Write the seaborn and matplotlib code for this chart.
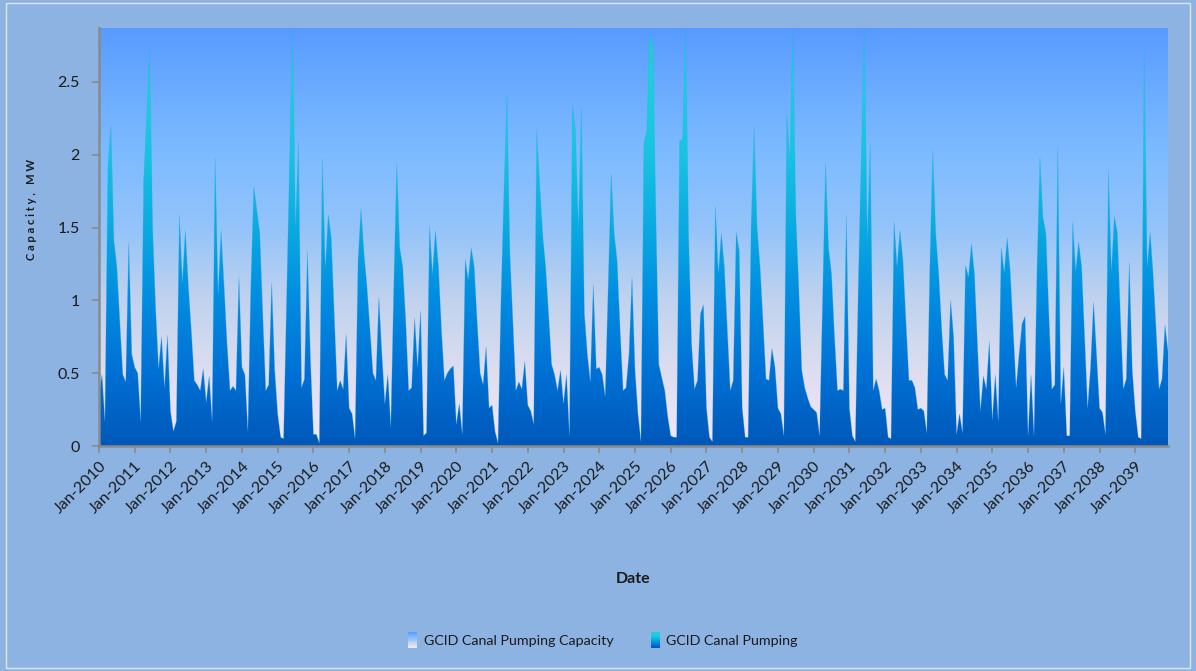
import numpy as np
import pandas as pd
import matplotlib
matplotlib.use("Agg")
import matplotlib.pyplot as plt
import seaborn as sns
from matplotlib.colors import LinearSegmentedColormap
from matplotlib.patches import PathPatch, Rectangle
from matplotlib.legend_handler import HandlerBase

# ---- data -------------------------------------------------------------
years = list(range(2010, 2040))
tick_labels = [f"Jan-{y}" for y in years]
series_names = ["GCID Canal Pumping Capacity", "GCID Canal Pumping"]

capacity_mw = 2.87

pumping_2010s = [
    0.35, 0.49, 0.17, 1.92, 2.20, 1.41, 1.23, 0.85, 0.49, 0.44, 1.40, 0.63,
    0.54, 0.50, 0.17, 1.82, 2.25, 2.71, 1.50, 0.95, 0.53, 0.75, 0.40, 0.76,
    0.24, 0.10, 0.17, 1.58, 1.12, 1.48, 1.10, 0.79, 0.45, 0.42, 0.38, 0.53,
    0.30, 0.48, 0.17, 1.98, 1.04, 1.48, 1.10, 0.70, 0.38, 0.41, 0.38, 1.16,
    0.54, 0.49, 0.10, 1.10, 1.78, 1.62, 1.46, 0.90, 0.38, 0.42, 1.12, 0.52,
    0.22, 0.06, 0.05, 1.00, 1.95, 2.85, 1.50, 2.09, 0.40, 0.46, 1.34, 0.60,
    0.08, 0.08, 0.02, 1.97, 1.22, 1.59, 1.43, 0.90, 0.38, 0.45, 0.39, 0.77,
    0.26, 0.22, 0.05, 1.27, 1.63, 1.32, 1.09, 0.80, 0.50, 0.45, 1.02, 0.63,
    0.29, 0.49, 0.13, 1.09, 1.94, 1.36, 1.23, 0.86, 0.38, 0.40, 0.88, 0.54,
    0.93, 0.07, 0.09, 1.51, 1.18, 1.48, 1.23, 0.80, 0.45, 0.50, 0.53, 0.55,
]
pumping_2020s = [
    0.15, 0.29, 0.08, 1.28, 1.14, 1.36, 1.23, 0.85, 0.50, 0.42, 0.68, 0.26,
    0.28, 0.10, 0.02, 1.00, 1.75, 2.41, 1.32, 0.85, 0.38, 0.44, 0.39, 0.58,
    0.28, 0.24, 0.15, 2.17, 1.80, 1.45, 1.23, 0.90, 0.56, 0.49, 0.38, 0.52,
    0.29, 0.49, 0.07, 2.34, 2.17, 1.50, 2.32, 0.91, 0.63, 0.44, 1.11, 0.53,
    0.54, 0.49, 0.34, 1.09, 1.87, 1.46, 1.27, 0.80, 0.38, 0.40, 0.63, 1.16,
    0.52, 0.22, 0.03, 2.08, 2.17, 2.83, 2.74, 1.60, 0.56, 0.47, 0.38, 0.20,
    0.07, 0.06, 0.06, 2.10, 2.10, 2.86, 1.45, 0.70, 0.39, 0.45, 0.91, 0.97,
    0.26, 0.06, 0.03, 1.65, 1.18, 1.46, 1.23, 0.80, 0.38, 0.45, 1.47, 1.34,
    0.26, 0.06, 0.06, 1.50, 2.19, 1.50, 1.23, 0.85, 0.46, 0.45, 0.67, 0.54,
    0.26, 0.22, 0.07, 2.28, 1.96, 2.86, 1.59, 1.09, 0.52, 0.40, 0.33, 0.27,
]
pumping_2030s = [
    0.25, 0.23, 0.07, 1.00, 1.94, 1.36, 1.18, 0.75, 0.38, 0.39, 0.38, 1.58,
    0.26, 0.07, 0.03, 1.10, 2.00, 2.87, 1.43, 2.08, 0.38, 0.46, 0.38, 0.25,
    0.26, 0.06, 0.05, 1.54, 1.23, 1.48, 1.27, 0.85, 0.45, 0.45, 0.40, 0.25,
    0.26, 0.24, 0.09, 1.20, 2.03, 1.46, 1.18, 0.80, 0.49, 0.45, 1.00, 0.75,
    0.08, 0.22, 0.09, 1.24, 1.16, 1.39, 1.18, 0.70, 0.24, 0.48, 0.39, 0.72,
    0.18, 0.49, 0.17, 1.36, 1.19, 1.43, 1.20, 0.80, 0.40, 0.63, 0.84, 0.89,
    0.07, 0.49, 0.07, 1.20, 1.98, 1.57, 1.46, 0.90, 0.39, 0.42, 2.05, 0.29,
    0.54, 0.07, 0.07, 1.54, 1.20, 1.40, 1.23, 0.75, 0.26, 0.54, 0.99, 0.63,
    0.26, 0.23, 0.08, 1.89, 1.20, 1.58, 1.46, 0.90, 0.39, 0.46, 1.26, 0.52,
    0.24, 0.06, 0.05, 2.71, 1.23, 1.47, 1.18, 0.80, 0.39, 0.46, 0.83, 0.65,
]

pumping = np.array(pumping_2010s + pumping_2020s + pumping_2030s)
months = np.arange(len(pumping))
df = pd.DataFrame({"month": months, "pumping": pumping,
                   "capacity": np.full(len(pumping), capacity_mw)})

# ---- style ------------------------------------------------------------
sns.set_theme(style="white")
plt.rcParams["font.family"] = ["Lato", "DejaVu Sans"]

BG = "#8db3e2"
AXIS_GREY = "#8a8a8a"
TEXT = "#1a1a1a"

# colour stops (value fraction, colour)
capacity_stops = [(0.00, "#f3e8f8"), (0.17, "#dedef0"), (0.35, "#c0d2ee"),
                  (0.52, "#94c4fa"), (0.70, "#7dbbff"), (0.87, "#69aaff"),
                  (1.00, "#589bff")]
pumping_stops = [(0.00, "#0058b9"), (0.17, "#0070d4"), (0.35, "#008ce1"),
                 (0.52, "#0aaae1"), (0.70, "#19c3e1"), (0.87, "#1ad2d8"),
                 (1.00, "#14d7c4")]

fig = plt.figure(figsize=(11.96, 6.71), dpi=100, facecolor=BG)
ax = fig.add_axes([99 / 1196, 1 - 446 / 671, (1168 - 99) / 1196, (446 - 28) / 671])
ax.set_facecolor("none")


def gradient_area(ax, x, y, stops, ymax, z):
    """Fill the region under y with a vertical colour gradient."""
    poly = ax.fill_between(x, 0, y, facecolor="none", edgecolor="none", zorder=z)
    cmap = LinearSegmentedColormap.from_list("grad", stops)
    grad = np.linspace(0, 1, 512).reshape(-1, 1)
    img = ax.imshow(grad, cmap=cmap, extent=[x[0], x[-1], 0, ymax],
                    origin="lower", aspect="auto", zorder=z,
                    interpolation="bilinear")
    clip = PathPatch(poly.get_paths()[0], transform=ax.transData,
                     facecolor="none", edgecolor="none")
    ax.add_patch(clip)
    img.set_clip_path(clip)


gradient_area(ax, df["month"].values, df["capacity"].values,
              capacity_stops, capacity_mw, 1)
gradient_area(ax, df["month"].values, df["pumping"].values,
              pumping_stops, capacity_mw, 2)

sns.lineplot(data=df, x="month", y="pumping", ax=ax, color="#2aa6e6",
             linewidth=0.5, alpha=0.35, zorder=3)

ax.set_xlim(0, len(pumping) - 1)
ax.set_ylim(0, capacity_mw)

ax.set_xticks(months[::12])
ax.set_xticklabels(tick_labels, rotation=45, ha="right",
                   rotation_mode="anchor")
yt = [0, 0.5, 1, 1.5, 2, 2.5]
ax.set_yticks(yt)
ax.set_yticklabels(["0", "0.5", "1", "1.5", "2", "2.5"])

ax.tick_params(axis="both", which="both", bottom=True, left=True,
               direction="out", length=5, width=1.2, color=AXIS_GREY,
               labelsize=11.5, labelcolor=TEXT)
ax.tick_params(axis="y", pad=9)
ax.tick_params(axis="x", pad=4)

for side in ("top", "right"):
    ax.spines[side].set_visible(False)
for side in ("left", "bottom"):
    ax.spines[side].set_color(AXIS_GREY)
    ax.spines[side].set_linewidth(1.8)
    ax.spines[side].set_zorder(5)

ax.set_xlabel("Date", fontsize=11.5, fontweight="bold", color=TEXT)
ax.xaxis.set_label_coords(0.5, (446 - 572) / 418)
ax.set_ylabel("C a p a c i t y ,   M W", fontsize=8, fontweight="bold",
              color=TEXT)
ax.yaxis.set_label_coords((37 - 99) / 1069, (446 - 209) / 418)


# ---- legend with gradient swatches --------------------------------------
class GradientSwatch(HandlerBase):
    def __init__(self, stops, n=24):
        super().__init__()
        self.cmap = LinearSegmentedColormap.from_list("sw", stops)
        self.n = n

    def create_artists(self, legend, orig_handle, xdescent, ydescent,
                       width, height, fontsize, trans):
        arts = []
        h = height / self.n
        for k in range(self.n):
            arts.append(Rectangle((-xdescent, -ydescent + k * h), width,
                                  h * 1.05,
                                  facecolor=self.cmap((k + 0.5) / self.n),
                                  edgecolor="none", transform=trans))
        return arts


h_cap = Rectangle((0, 0), 1, 1)
h_pump = Rectangle((0, 0), 1, 1)
fig.legend([h_cap, h_pump], series_names,
           handler_map={h_cap: GradientSwatch(capacity_stops),
                        h_pump: GradientSwatch(pumping_stops)},
           loc="center", bbox_to_anchor=(603 / 1196, 1 - 640 / 671),
           ncol=2, frameon=False, fontsize=10.3, labelcolor=TEXT,
           handlelength=0.65, handleheight=1.3, handletextpad=0.45,
           columnspacing=2.6)

# outer chart border
fig.patches.append(Rectangle((6 / 1196, 3 / 671), 1184 / 1196, 665 / 671,
                             transform=fig.transFigure, fill=False,
                             edgecolor="#dfe6f0", linewidth=1))

fig.savefig("out.png", dpi=100, facecolor=fig.get_facecolor())
